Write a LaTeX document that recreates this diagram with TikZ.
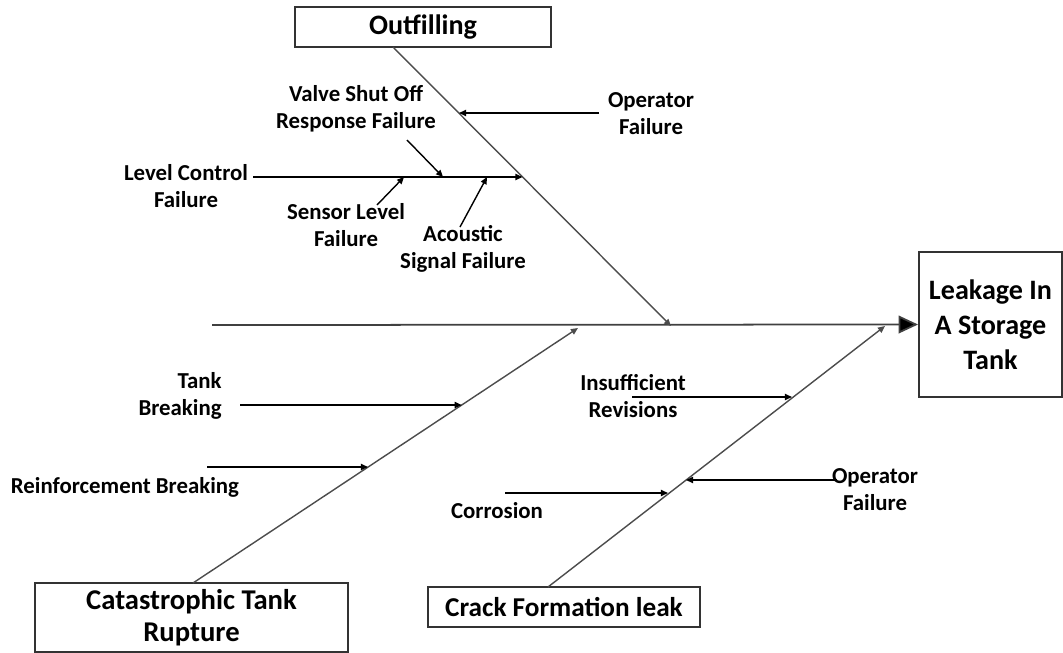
\documentclass[tikz,border=0pt]{standalone}
\usepackage{fontspec}
\setmainfont{Carlito}
\usetikzlibrary{arrows.meta}
\tikzset{
  category/.style={rectangle, draw=black!80, line width=1.1pt, inner sep=0pt,
    align=center, font=\bfseries\fontsize{15.5}{18}\selectfont},
  effect/.style={category, font=\bfseries\fontsize{16}{20}\selectfont},
  cause/.style={align=center, inner sep=0pt,
    font=\bfseries\fontsize{13}{15.3}\selectfont},
  spine/.style={draw=black!75, line width=1pt, -{Triangle[length=11pt, width=10pt, fill=black]}},
  bone/.style={draw=black!70, line width=0.8pt, -{Triangle[length=4pt, width=3.5pt]}},
  arrow/.style={draw=black, line width=0.8pt, -{Triangle[length=4pt, width=3.5pt]}},
}
\begin{document}
\begin{tikzpicture}[x=0.02cm, y=-0.02cm]
  \useasboundingbox (0,0) rectangle (1063,653);

  % Effect and spine
  \node[effect, minimum width=2.86cm, minimum height=2.9cm] (leak) at (990.5,324.5) {Leakage In\\A Storage\\Tank};
  \coordinate (tail) at (212,325);
  \draw[spine] (tail) -- (leak.west);

  % Categories
  \node[category, minimum width=5.12cm, minimum height=0.8cm, font=\bfseries\fontsize{16}{18}\selectfont] (outf) at (423,27) {Outfilling};
  \node[category, minimum width=6.26cm, minimum height=1.38cm, font=\bfseries\fontsize{16.3}{18.5}\selectfont] (cat) at (191.5,617.5) {Catastrophic Tank\\Rupture};
  \node[category, minimum width=5.44cm, minimum height=0.8cm] (crack) at (564,607) {Crack Formation leak};

  \coordinate (outf-tail) at (393,47);
  \coordinate (outf-head) at (671,326);
  \coordinate (cat-tail)  at (193,583);
  \coordinate (cat-head)  at (578,328);
  \coordinate (crack-tail) at (548,587);
  \coordinate (crack-head) at (885,326);
  \draw[bone] (outf-tail) -- (outf-head);
  \draw[bone] (cat-tail) -- (cat-head);
  \draw[bone] (crack-tail) -- (crack-head);

  % Outfilling causes
  \node[cause] (opA) at (651,114) {Operator\\Failure};
  \node[cause] (level) at (186,186) {Level Control\\Failure};
  \node[cause] (valve) at (356,109) {Valve Shut Off\\Response Failure};
  \node[cause] (sensor) at (346,225) {Sensor Level\\Failure};
  \node[cause] (acoustic) at (463,249) {Acoustic\\Signal Failure};
  \coordinate (opA-tail) at (599,113);     \coordinate (opA-end) at (459,113);
  \coordinate (level-tail) at (253,177);   \coordinate (level-end) at (522.5,177);
  \coordinate (valve-tail) at (407,140);   \coordinate (valve-end) at (443,177);
  \coordinate (sensor-tail) at (377,205);  \coordinate (sensor-end) at (404,177);
  \coordinate (acoustic-tail) at (460,227); \coordinate (acoustic-end) at (487,177);
  \draw[arrow] (opA-tail) -- (opA-end);
  \draw[arrow] (level-tail) -- (level-end);
  \draw[arrow] (valve-tail) -- (valve-end);
  \draw[arrow] (sensor-tail) -- (sensor-end);
  \draw[arrow] (acoustic-tail) -- (acoustic-end);

  % Rupture causes
  \node[cause, align=right, anchor=east] (tank) at (222,396) {Tank\\Breaking};
  \node[cause] (reinf) at (125,487) {Reinforcement Breaking};
  \coordinate (tank-tail) at (240,405);    \coordinate (tank-end) at (461.7,405);
  \coordinate (reinf-tail) at (207,467);   \coordinate (reinf-end) at (368,467);
  \draw[arrow] (tank-tail) -- (tank-end);
  \draw[arrow] (reinf-tail) -- (reinf-end);

  % Crack causes
  \node[cause] (revis) at (633,396) {Insufficient\\Revisions};
  \node[cause] (corr) at (497,511) {Corrosion};
  \node[cause] (opB) at (875,490) {Operator\\Failure};
  \coordinate (revis-tail) at (632,397);   \coordinate (revis-end) at (792,397);
  \coordinate (corr-tail) at (505,493);    \coordinate (corr-end) at (668,493);
  \coordinate (opB-tail) at (837,480);     \coordinate (opB-end) at (686,480);
  \draw[arrow] (revis-tail) -- (revis-end);
  \draw[arrow] (corr-tail) -- (corr-end);
  \draw[arrow] (opB-tail) -- (opB-end);

\end{tikzpicture}
\end{document}
